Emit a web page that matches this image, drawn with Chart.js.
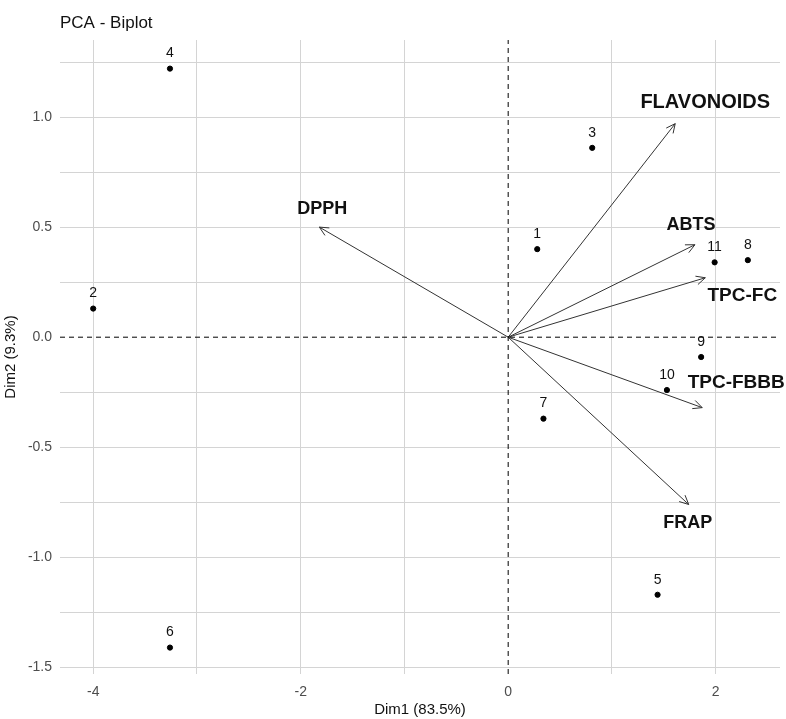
<!DOCTYPE html>
<html>
<head>
<meta charset="utf-8">
<script src="https://cdn.jsdelivr.net/npm/chart.js@4.4.1/dist/chart.umd.min.js"></script>
<style>
  html, body { margin: 0; padding: 0; background: #fff; }
  #wrap { width: 786px; height: 719px; }
</style>
</head>
<body>
<div id="wrap"><canvas id="biplot"></canvas></div>
<script>
// observations (individuals)
const obsLabels = ['1', '2', '3', '4', '5', '6', '7', '8', '9', '10', '11'];
const obsX = [0.28, -4.00, 0.81, -3.26, 1.44, -3.26, 0.34, 2.31, 1.86, 1.53, 1.99];
const obsY = [0.40, 0.13, 0.86, 1.22, -1.17, -1.41, -0.37, 0.35, -0.09, -0.24, 0.34];

// variables (arrows)
const varNames = ['FLAVONOIDS', 'DPPH', 'ABTS', 'TPC-FC', 'TPC-FBBB', 'FRAP'];
const varX = [1.61, -1.82, 1.80, 1.90, 1.87, 1.74];
const varY = [0.97, 0.50, 0.42, 0.27, -0.32, -0.76];

// axes
const xTicks = [-4, -3, -2, -1, 0, 1, 2];
const xTickLabels = [-4, -2, 0, 2];
const yTicks = [-1.5, -1.25, -1, -0.75, -0.5, -0.25, 0, 0.25, 0.5, 0.75, 1, 1.25];
const yTickLabels = [-1.5, -1, -0.5, 0, 0.5, 1];
const xRange = [-4.32, 2.62];
const yRange = [-1.53, 1.35];

// label placement next to arrow tips (px)
const varLabelOffset = {
  'FLAVONOIDS': [30, -21, 20],
  'DPPH': [3, -18, 18],
  'ABTS': [-4, -20, 18],
  'TPC-FC': [37, 18, 19],
  'TPC-FBBB': [34, -25, 19],
  'FRAP': [-1, 19, 18]
};

const datasets = [
  {
    type: 'line',
    data: [{ x: xRange[0], y: 0 }, { x: xRange[1], y: 0 }],
    borderColor: '#000',
    borderWidth: 1,
    borderDash: [5, 4],
    pointRadius: 0
  },
  {
    type: 'line',
    data: [{ x: 0, y: yRange[0] }, { x: 0, y: yRange[1] }],
    borderColor: '#000',
    borderWidth: 1,
    borderDash: [5, 4],
    pointRadius: 0
  }
];

varNames.forEach((name, i) => {
  datasets.push({
    type: 'line',
    label: name,
    data: [{ x: 0, y: 0 }, { x: varX[i], y: varY[i] }],
    borderColor: '#333',
    borderWidth: 1,
    pointRadius: 0,
    isArrow: true
  });
});

datasets.push({
  type: 'scatter',
  label: 'obs',
  data: obsX.map((x, i) => ({ x, y: obsY[i] })),
  backgroundColor: '#000',
  borderColor: '#000',
  pointRadius: 2.6,
  isObs: true
});

const biplotDecor = {
  id: 'biplotDecor',
  afterDatasetsDraw(chart) {
    const { ctx, scales: { x, y }, chartArea } = chart;
    ctx.save();

    // arrow heads + variable labels
    chart.data.datasets.forEach(ds => {
      if (!ds.isArrow) return;
      const p0 = ds.data[0], p1 = ds.data[1];
      const x0 = x.getPixelForValue(p0.x), y0 = y.getPixelForValue(p0.y);
      const x1 = x.getPixelForValue(p1.x), y1 = y.getPixelForValue(p1.y);
      const ang = Math.atan2(y1 - y0, x1 - x0);
      const len = 10, spread = Math.PI / 7;
      ctx.strokeStyle = '#333';
      ctx.lineWidth = 1;
      ctx.beginPath();
      ctx.moveTo(x1 - len * Math.cos(ang - spread), y1 - len * Math.sin(ang - spread));
      ctx.lineTo(x1, y1);
      ctx.lineTo(x1 - len * Math.cos(ang + spread), y1 - len * Math.sin(ang + spread));
      ctx.stroke();

      const off = varLabelOffset[ds.label];
      ctx.fillStyle = '#111';
      ctx.font = 'bold ' + off[2] + 'px "Liberation Sans", Arial, sans-serif';
      ctx.textAlign = 'center';
      ctx.textBaseline = 'middle';
      ctx.fillText(ds.label, x1 + off[0], y1 + off[1]);
    });

    // observation labels
    ctx.fillStyle = '#111';
    ctx.font = '14px "Liberation Sans", Arial, sans-serif';
    ctx.textAlign = 'center';
    ctx.textBaseline = 'middle';
    obsLabels.forEach((lab, i) => {
      ctx.fillText(lab, x.getPixelForValue(obsX[i]), y.getPixelForValue(obsY[i]) - 15);
    });

    // title
    ctx.fillStyle = '#111';
    ctx.font = '17px "Liberation Sans", Arial, sans-serif';
    ctx.textAlign = 'left';
    ctx.textBaseline = 'middle';
    ctx.fillText('PCA - Biplot', chartArea.left, 23);

    ctx.restore();
  }
};

const gridColor = c => (c.tick && c.tick.value === 0) ? 'rgba(0,0,0,0)' : '#d4d4d4';

new Chart(document.getElementById('biplot'), {
  type: 'scatter',
  data: { datasets },
  options: {
    responsive: true,
    maintainAspectRatio: false,
    animation: false,
    layout: { padding: { top: 40, right: 6, left: 0, bottom: 0 } },
    plugins: {
      legend: { display: false },
      tooltip: { enabled: false }
    },
    scales: {
      x: {
        type: 'linear',
        min: xRange[0],
        max: xRange[1],
        afterBuildTicks: s => { s.ticks = xTicks.map(value => ({ value })); },
        afterFit: s => { s.height = 45; },
        ticks: {
          color: '#4d4d4d',
          font: { family: '"Liberation Sans", Arial', size: 14 },
          padding: 10,
          maxRotation: 0,
          autoSkip: false,
          callback: v => xTickLabels.includes(v) ? String(v) : ''
        },
        grid: { color: gridColor, drawTicks: false },
        border: { display: false },
        title: {
          display: true,
          text: 'Dim1 (83.5%)',
          color: '#111',
          font: { family: '"Liberation Sans", Arial', size: 15 },
          padding: { top: 0, bottom: 0 }
        }
      },
      y: {
        type: 'linear',
        min: yRange[0],
        max: yRange[1],
        afterBuildTicks: s => { s.ticks = yTicks.map(value => ({ value })); },
        afterFit: s => { s.width = 60; },
        ticks: {
          color: '#4d4d4d',
          font: { family: '"Liberation Sans", Arial', size: 14 },
          padding: 8,
          autoSkip: false,
          callback: v => yTickLabels.includes(v) ? v.toFixed(1) : ''
        },
        grid: { color: gridColor, drawTicks: false },
        border: { display: false },
        title: {
          display: true,
          text: 'Dim2 (9.3%)',
          color: '#111',
          font: { family: '"Liberation Sans", Arial', size: 15 },
          padding: { top: 2, bottom: 0 }
        }
      }
    }
  },
  plugins: [biplotDecor]
});
</script>
</body>
</html>
